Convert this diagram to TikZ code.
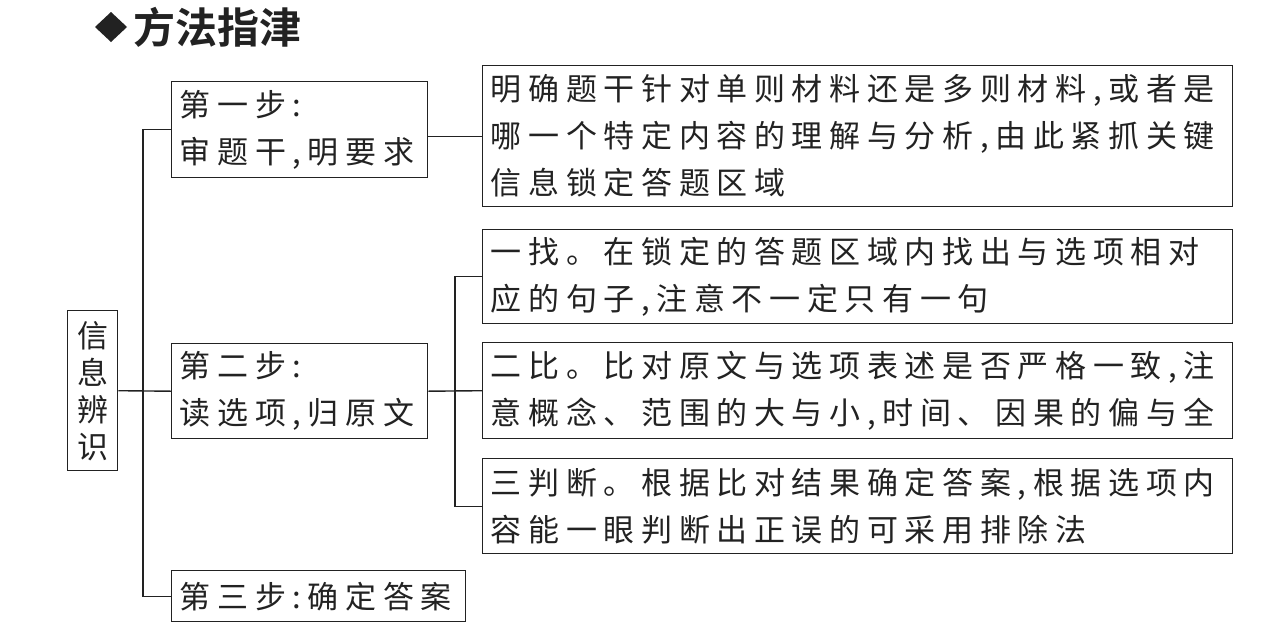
\documentclass[tikz,border=0pt]{standalone}
\usepackage{fontspec}
\newfontfamily\cjk{Noto Sans CJK SC}[LetterSpace=21.5]
\newfontfamily\cjktitle{Noto Sans CJK SC Bold}
\definecolor{ink}{HTML}{222222}
\begin{document}
\begin{tikzpicture}[x=1pt,y=-1pt,
  box/.style={draw=ink,line width=1.4pt,anchor=north west,inner xsep=8pt,inner ysep=0pt,
    font=\cjk\fontsize{31}{47}\selectfont,text=ink,align=left},
  conn/.style={draw=ink,line width=1.4pt}]
\useasboundingbox[fill=white] (0,0) rectangle (1281,640);
% title
\fill[ink] (111,12) -- (127,27) -- (111,42) -- (95,27) -- cycle;
\node[anchor=west,inner sep=0pt,font=\cjktitle\fontsize{42}{42}\selectfont,text=ink] (title) at (133,27) {方法指津};
% root
\node[box,minimum width=50pt,minimum height=160pt,inner xsep=0pt,text width=50pt,align=center,
  font=\cjk\fontsize{31}{37}\selectfont] (root) at (67,310) {信\\息\\辨\\识};
% steps
\node[box,minimum width=256pt,minimum height=96pt,text width=240pt] (s1) at (171,81) {第一步:\\审题干,明要求};
\node[box,minimum width=256pt,minimum height=95pt,text width=240pt] (s2) at (171,343) {第二步:\\读选项,归原文};
\node[box,minimum width=294pt,minimum height=51pt,text width=278pt] (s3) at (171,570) {第三步:确定答案};
% details
\node[box,minimum width=750pt,minimum height=141pt,text width=734pt] (d1) at (482,65)
  {明确题干针对单则材料还是多则材料,或者是\\哪一个特定内容的理解与分析,由此紧抓关键\\信息锁定答题区域};
\node[box,minimum width=750pt,minimum height=94pt,text width=734pt] (d2) at (482,229)
  {一找。在锁定的答题区域内找出与选项相对\\应的句子,注意不一定只有一句};
\node[box,minimum width=750pt,minimum height=96pt,text width=734pt] (d3) at (482,342)
  {二比。比对原文与选项表述是否严格一致,注\\意概念、范围的大与小,时间、因果的偏与全};
\node[box,minimum width=750pt,minimum height=95pt,text width=734pt] (d4) at (482,458)
  {三判断。根据比对结果确定答案,根据选项内\\容能一眼判断出正误的可采用排除法};
% connectors
\draw[conn] (root.east) -- (s2.west);
\draw[conn] (s1.west) -- ++(-28,0) |- (s3.west);
\draw[conn] (s1.east |- d1.west) -- (d1.west);
\draw[conn] (s2.east) -- (d3.west);
\draw[conn] (d2.west) -- ++(-27,0) |- (d4.west);
\end{tikzpicture}
\end{document}
